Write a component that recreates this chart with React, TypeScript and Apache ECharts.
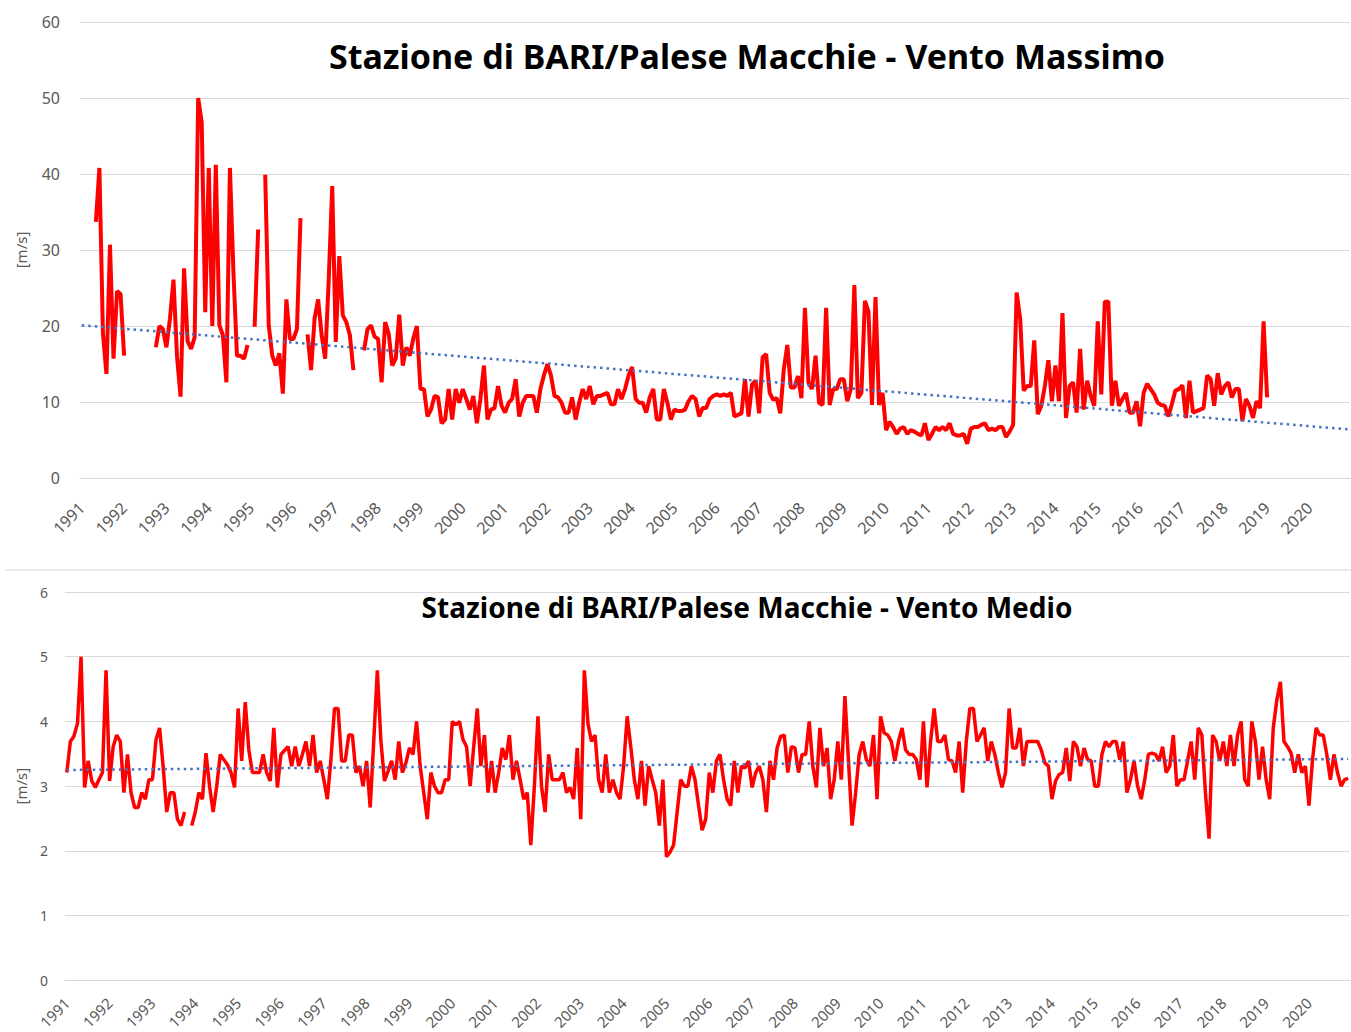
import React, { useEffect, useRef } from "react";
import * as echarts from "echarts";

const years = [1991, 1992, 1993, 1994, 1995, 1996, 1997, 1998, 1999, 2000, 2001, 2002, 2003, 2004, 2005,
  2006, 2007, 2008, 2009, 2010, 2011, 2012, 2013, 2014, 2015, 2016, 2017, 2018, 2019, 2020];
const monthCodes = ["01", "02", "03", "04", "05", "06", "07", "08", "09", "10", "11", "12"];

const titleMax = "Stazione di BARI/Palese Macchie - Vento Massimo";
const titleMean = "Stazione di BARI/Palese Macchie - Vento Medio";
const unitLabel = "[m/s]";

// Vento Massimo (monthly), one row per year
const maxWind = [
  null, null, null, null, 33.7, 40.8, 19, 13.7, 30.7, 15.7, 24.6, 24.2,
  16.1, null, null, null, null, null, null, null, null, 17.2, 20, 19.6,
  17.2, 21, 26.1, 16, 10.7, 27.6, 18, 17, 18.5, 50, 46.8, 21.8,
  40.8, 20, 41.2, 20.1, 18.8, 12.6, 40.8, 27, 16.1, 16.1, 15.7, 17.5,
  null, 19.9, 32.7, null, 39.9, 20.1, 16.1, 14.8, 16.4, 11.1, 23.5, 18.3,
  18.3, 19.6, 34.2, null, 18.9, 14.2, 21, 23.5, 18.8, 15.7, 26, 38.4,
  17.9, 29.2, 21.4, 20.5, 18.8, 14.2, null, null, 16.8, 19.6, 20.1, 18.6,
  18.3, 12.6, 20.5, 19, 14.8, 15.7, 21.5, 14.8, 17.2, 16.1, 18.4, 20,
  11.7, 11.7, 8.1, 9, 10.8, 10.6, 7.2, 7.7, 11.7, 7.7, 11.7, 9.9,
  11.7, 10.4, 9, 10.8, 7.2, 10.4, 14.8, 7.7, 9, 9.2, 12.1, 9.5,
  8.6, 9.9, 10.4, 13, 8.1, 9.9, 10.8, 10.8, 10.8, 8.6, 11.7, 13.5,
  15, 13.5, 10.8, 10.6, 9.9, 8.6, 8.6, 10.6, 7.7, 9.9, 11.7, 10.4,
  12.1, 9.7, 10.8, 10.8, 11, 11.2, 9.7, 9.7, 11.7, 10.4, 11.7, 13.5,
  14.6, 10.4, 9.9, 9.9, 8.6, 10.6, 11.7, 7.7, 7.7, 11.7, 9.9, 7.7,
  9, 8.8, 8.8, 9, 10.1, 10.8, 10.4, 8.1, 9.2, 9.2, 10.4, 10.8,
  11, 10.8, 11, 10.8, 11.2, 8.1, 8.3, 8.5, 13, 8.1, 12.3, 12.8,
  8.5, 15.9, 16.3, 11.2, 10.3, 10.5, 8.5, 14.3, 17.5, 11.9, 11.9, 13.4,
  10.5, 22.4, 12.5, 11.7, 16.1, 9.9, 9.6, 22.4, 9.6, 11.7, 11.7, 13,
  13, 10.1, 11.7, 25.4, 10.5, 11.2, 23.3, 21.9, 9.6, 23.8, 9.6, 11.2,
  6.3, 7.4, 6.7, 5.8, 6.5, 6.7, 5.8, 6.3, 6.1, 5.8, 5.6, 7.2,
  5, 5.8, 6.7, 6.3, 6.7, 6.3, 7.2, 5.8, 5.6, 5.6, 5.8, 4.5,
  6.5, 6.7, 6.7, 7, 7.2, 6.3, 6.5, 6.3, 6.7, 6.7, 5.4, 6.1,
  7, 24.4, 21, 11.5, 12.1, 12.1, 18.1, 8.4, 9.5, 12.1, 15.5, 10.1,
  14.8, 10.1, 21.7, 7.9, 12.1, 12.6, 8.6, 17, 9, 12.8, 10.8, 9.5,
  20.6, 11, 23.2, 23.2, 9.5, 12.8, 9.5, 10.4, 11.2, 8.6, 8.6, 10.1,
  6.8, 11.2, 12.4, 11.7, 11, 9.9, 9.6, 9.5, 8.1, 9.7, 11.5, 11.7,
  12.2, 7.9, 12.8, 8.6, 8.8, 9, 9.2, 13.5, 13, 9.5, 13.8, 11,
  12.1, 12.6, 10.6, 11.7, 11.7, 7.5, 10.4, 9.5, 7.9, 10.1, 9.2, 20.6,
  10.6, null, null, null, null, null, null, null, null, null, null, null,
  null, null, null, null, null, null, null, null, null, null, null, null,
];

// Vento Medio (monthly), one row per year
const meanWind = [
  3.21, 3.69, 3.77, 3.97, 5.0, 2.98, 3.39, 3.08, 2.98, 3.1, 3.21, 4.79,
  3.08, 3.61, 3.79, 3.69, 2.9, 3.49, 2.9, 2.67, 2.67, 2.9, 2.8, 3.1,
  3.1, 3.72, 3.9, 3.3, 2.6, 2.9, 2.9, 2.49, 2.39, 2.6, null, 2.39,
  2.6, 2.9, 2.8, 3.51, 3.0, 2.6, 3.0, 3.49, 3.41, 3.33, 3.21, 2.98,
  4.2, 3.39, 4.3, 3.56, 3.21, 3.21, 3.21, 3.49, 3.21, 3.08, 3.9, 2.98,
  3.49, 3.55, 3.61, 3.31, 3.61, 3.31, 3.49, 3.69, 3.31, 3.79, 3.21, 3.39,
  3.1, 2.8, 3.41, 4.2, 4.2, 3.39, 3.39, 3.79, 3.79, 3.21, 3.31, 3.0,
  3.39, 2.67, 3.7, 4.79, 3.7, 3.08, 3.23, 3.39, 3.1, 3.69, 3.21, 3.36,
  3.59, 3.49, 4.0, 3.31, 2.9, 2.49, 3.21, 3.0, 2.9, 2.9, 3.1, 3.1,
  4.0, 3.95, 4.0, 3.72, 3.61, 3.0, 3.61, 4.2, 3.31, 3.79, 2.9, 3.39,
  2.9, 3.21, 3.59, 3.41, 3.79, 3.1, 3.39, 3.1, 2.8, 2.9, 2.09, 3.0,
  4.08, 3.0, 2.6, 3.49, 3.1, 3.1, 3.1, 3.21, 2.9, 2.98, 2.8, 3.59,
  2.49, 4.79, 3.97, 3.69, 3.79, 3.1, 2.9, 3.49, 2.9, 3.1, 2.9, 2.8,
  3.31, 4.08, 3.61, 3.1, 2.8, 3.39, 2.7, 3.31, 3.1, 2.9, 2.39, 3.1,
  1.91, 1.98, 2.09, 2.6, 3.1, 3.0, 3.0, 3.31, 3.1, 2.7, 2.32, 2.49,
  3.21, 2.9, 3.39, 3.49, 3.1, 2.8, 2.7, 3.39, 2.9, 3.31, 3.28, 3.39,
  2.98, 3.21, 3.31, 3.1, 2.6, 3.39, 3.1, 3.59, 3.77, 3.79, 3.21, 3.61,
  3.59, 3.21, 3.49, 3.49, 4.0, 3.31, 2.98, 3.9, 3.31, 3.59, 2.8, 3.1,
  3.69, 3.1, 4.39, 3.39, 2.39, 2.9, 3.49, 3.69, 3.41, 3.31, 3.79, 2.8,
  4.08, 3.82, 3.79, 3.69, 3.39, 3.69, 3.9, 3.56, 3.49, 3.49, 3.41, 3.1,
  4.0, 2.98, 3.69, 4.2, 3.69, 3.69, 3.79, 3.41, 3.39, 3.21, 3.69, 2.9,
  3.69, 4.2, 4.2, 3.69, 3.79, 3.9, 3.39, 3.69, 3.49, 3.21, 2.98, 3.21,
  4.2, 3.59, 3.59, 3.9, 3.31, 3.69, 3.69, 3.69, 3.69, 3.56, 3.36, 3.31,
  2.8, 3.08, 3.18, 3.21, 3.59, 3.08, 3.69, 3.61, 3.31, 3.59, 3.41, 3.39,
  3.0, 3.0, 3.49, 3.69, 3.61, 3.69, 3.69, 3.41, 3.69, 2.9, 3.1, 3.39,
  3.0, 2.8, 3.1, 3.49, 3.51, 3.49, 3.39, 3.61, 3.21, 3.31, 3.79, 3.0,
  3.1, 3.1, 3.39, 3.69, 3.1, 3.9, 3.79, 2.9, 2.19, 3.79, 3.69, 3.39,
  3.69, 3.31, 3.79, 3.31, 3.79, 4.0, 3.1, 3.0, 4.0, 3.69, 3.1, 3.61,
  3.1, 2.8, 3.9, 4.33, 4.61, 3.69, 3.61, 3.51, 3.21, 3.49, 3.21, 3.31,
  2.7, 3.41, 3.9, 3.79, 3.79, 3.49, 3.1, 3.49, 3.21, 3.0, 3.1, 3.12,
];

// Linear trend lines (start / end of the axis)
const maxTrend = [20.1, 6.4];
const meanTrend = [3.25, 3.42];

const maxTicks = { min: 0, max: 60, interval: 10 };
const meanTicks = { min: 0, max: 6, interval: 1 };

const categories = years.flatMap((y) => monthCodes.map((m) => `${y}-${m}`));

const GRAY = "#595959";
const GRID = "#d9d9d9";
const RED = "#ff0000";
const BLUE = "#4472c4";
const FONT = "'Noto Sans', 'Open Sans', sans-serif";

export default function App() {
  const ref = useRef<HTMLDivElement | null>(null);

  useEffect(() => {
    if (!ref.current) return;
    const chart = echarts.init(ref.current, undefined, { renderer: "svg" });
    const last = categories.length - 1;

    const xAxisBase = (gridIndex: number, fontSize: number, margin: number) => ({
      type: "category",
      gridIndex,
      data: categories,
      boundaryGap: true,
      axisLine: { show: true, lineStyle: { color: GRID, width: 1 } },
      axisTick: { show: false },
      splitLine: { show: false },
      axisLabel: {
        interval: 11,
        rotate: 45,
        margin,
        color: GRAY,
        fontSize,
        fontFamily: FONT,
        formatter: (v: string) => v.slice(0, 4),
      },
    });

    const yAxisBase = (gridIndex: number, ticks: any, fontSize: number, margin: number, nameGap: number) => ({
      type: "value",
      gridIndex,
      min: ticks.min,
      max: ticks.max,
      interval: ticks.interval,
      name: unitLabel,
      nameLocation: "middle",
      nameGap,
      nameRotate: 90,
      nameTextStyle: { color: GRAY, fontSize: 15, fontFamily: FONT },
      axisLine: { show: false },
      axisTick: { show: false },
      axisLabel: { color: GRAY, fontSize, fontFamily: FONT, margin },
      splitLine: { show: true, lineStyle: { color: GRID, width: 1 } },
    });

    const trendStyle = { color: BLUE, width: 2.5, type: [2.5, 4], cap: "butt" };

    chart.setOption({
      animation: false,
      backgroundColor: "#ffffff",
      title: [
        {
          text: titleMax,
          left: 742,
          top: 34,
          textAlign: "center",
          textStyle: { fontSize: 34, fontWeight: "bold", color: "#000", fontFamily: FONT },
        },
        {
          text: titleMean,
          left: 742,
          top: 588,
          textAlign: "center",
          textStyle: { fontSize: 28, fontWeight: "bold", color: "#000", fontFamily: FONT },
        },
      ],
      grid: [
        { left: 80, top: 22, width: 1270, height: 456, containLabel: false },
        { left: 65, top: 592, width: 1285, height: 390, containLabel: false },
      ],
      xAxis: [xAxisBase(0, 16, 27), xAxisBase(1, 15, 20)],
      yAxis: [yAxisBase(0, maxTicks, 16, 20, 52), yAxisBase(1, meanTicks, 14, 17, 37)],
      graphic: [
        {
          type: "line",
          shape: { x1: 5, y1: 570, x2: 1351, y2: 570 },
          style: { stroke: GRID, lineWidth: 1 },
          silent: true,
        },
      ],
      series: [
        {
          type: "line",
          xAxisIndex: 0,
          yAxisIndex: 0,
          data: maxWind,
          showSymbol: false,
          connectNulls: false,
          lineStyle: { color: RED, width: 4 },
          itemStyle: { color: RED },
          z: 3,
        },
        {
          type: "line",
          xAxisIndex: 0,
          yAxisIndex: 0,
          data: [[categories[0], maxTrend[0]], [categories[last], maxTrend[1]]],
          showSymbol: false,
          lineStyle: trendStyle,
          itemStyle: { color: BLUE },
          z: 4,
        },
        {
          type: "line",
          xAxisIndex: 1,
          yAxisIndex: 1,
          data: meanWind,
          showSymbol: false,
          connectNulls: false,
          lineStyle: { color: RED, width: 3.5 },
          itemStyle: { color: RED },
          z: 3,
        },
        {
          type: "line",
          xAxisIndex: 1,
          yAxisIndex: 1,
          data: [[categories[0], meanTrend[0]], [categories[last], meanTrend[1]]],
          showSymbol: false,
          lineStyle: trendStyle,
          itemStyle: { color: BLUE },
          z: 4,
        },
      ],
    });

    return () => chart.dispose();
  }, []);

  return (
    <div
      ref={ref}
      style={{ position: "absolute", left: 0, top: 0, width: 1351, height: 1032, background: "#fff" }}
    />
  );
}
